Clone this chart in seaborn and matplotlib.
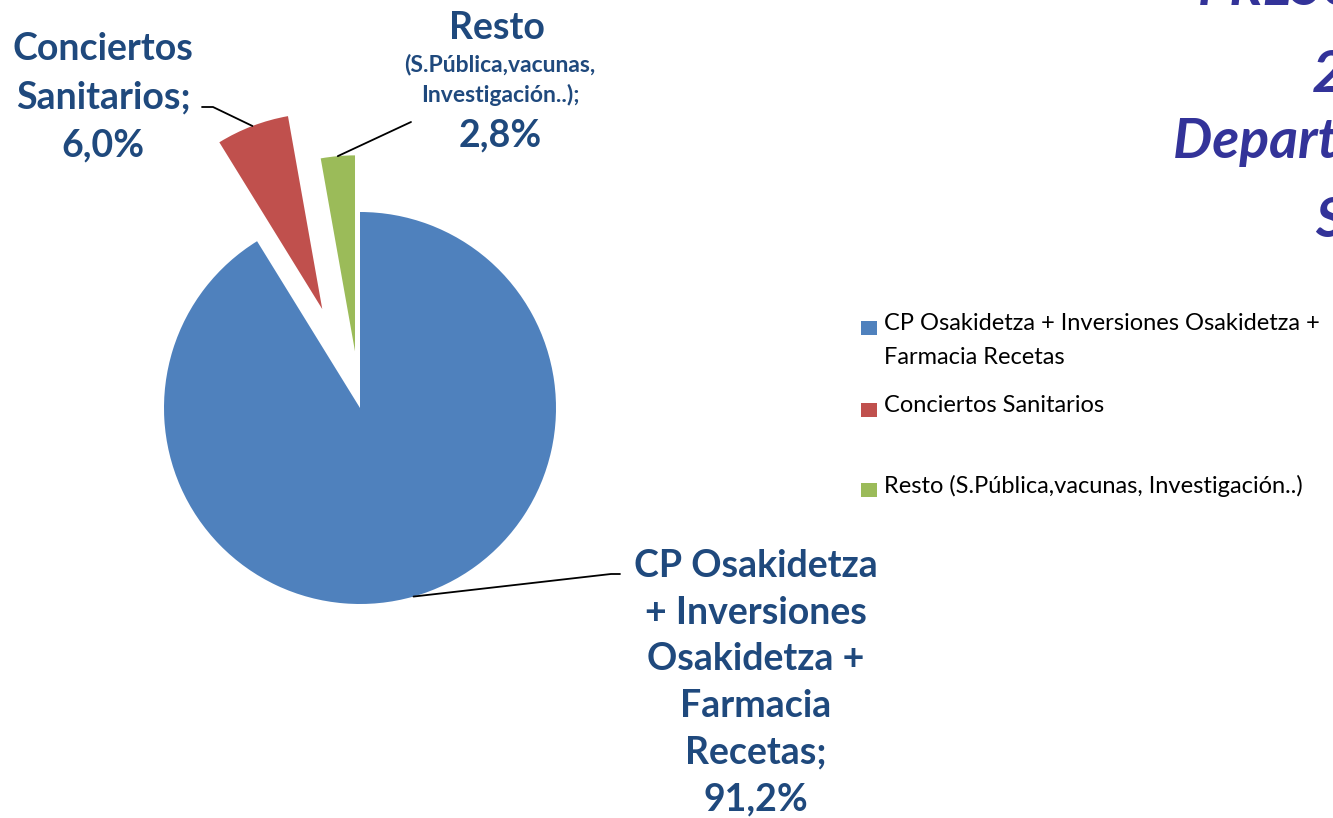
import numpy as np
import matplotlib
matplotlib.use("Agg")
import matplotlib.pyplot as plt
import seaborn as sns

# Data
categories = ["CP Osakidetza + Inversiones Osakidetza + Farmacia Recetas",
              "Conciertos Sanitarios",
              "Resto (S.Pública,vacunas, Investigación..)"]
legend_labels = ["CP Osakidetza + Inversiones Osakidetza +\nFarmacia Recetas",
                 "Conciertos Sanitarios",
                 "Resto (S.Pública,vacunas, Investigación..)"]
shares = [91.2, 6.0, 2.8]
explode = [0.0, 0.54, 0.29]   # fraction of radius
colors = ["#4F81BD", "#C0504D", "#9BBB59"]

W, H = 1333, 818
R = 196
sns.set_theme(style="white")
plt.rcParams['font.family'] = ['Lato', 'DejaVu Sans']

fig = plt.figure(figsize=(W / 100, H / 100), dpi=100)
ax = fig.add_axes([0, 0, 1, 1])

def Y(y):
    # pixel row -> data y
    return H - y

wedges, _ = ax.pie(shares, colors=colors, explode=[e * R for e in explode],
                   startangle=90, counterclock=False, radius=R,
                   center=(360, Y(408)), wedgeprops=dict(linewidth=0))
ax.set_xlim(0, W)
ax.set_ylim(0, H)
ax.set_aspect('equal')
ax.axis('off')

def anchor(w):
    mid = np.deg2rad((w.theta1 + w.theta2) / 2)
    cx, cy = w.center
    return cx + w.r * np.cos(mid), cy + w.r * np.sin(mid)

def pct(v):
    return f"{v:.1f}%".replace('.', ',')

lab_col = "#1F497D"
big = 27
small = 16.5

# leader lines
ax_, ay_ = anchor(wedges[0])
ax.plot([ax_, 611, 620], [ay_, Y(574), Y(574)], color="black", lw=1.3)
ax_, ay_ = anchor(wedges[1])
ax.plot([ax_, 213, 202], [ay_, Y(107), Y(107)], color="black", lw=1.3)
ax_, ay_ = anchor(wedges[2])
ax.plot([ax_, 411], [ay_, Y(122)], color="black", lw=1.3)

# blue label
ax.text(756, Y(549), "CP Osakidetza\n+ Inversiones\nOsakidetza +\nFarmacia\nRecetas;\n" + pct(shares[0]),
        ha="center", va="top", fontsize=big, fontweight="bold", color=lab_col,
        linespacing=1.45)
# red label
ax.text(103, Y(32), "Conciertos\nSanitarios;\n" + pct(shares[1]),
        ha="center", va="top", fontsize=big, fontweight="bold", color=lab_col,
        linespacing=1.5)
# green label
ax.text(497, Y(28), "Resto", ha="center", va="center", fontsize=big,
        fontweight="bold", color=lab_col)
ax.text(500, Y(80), "(S.Pública,vacunas,\nInvestigación..);", ha="center", va="center",
        fontsize=small, fontweight="bold", color=lab_col, linespacing=1.45)
ax.text(500, Y(135), pct(shares[2]), ha="center", va="center", fontsize=big,
        fontweight="bold", color=lab_col)

# legend (manual, uneven row spacing as in the original)
leg_y = [328, 410, 490]
for lab, col, yy in zip(legend_labels, colors, leg_y):
    ax.add_patch(plt.Rectangle((861, Y(yy + 7)), 16, 14, color=col, lw=0))
    ax.text(884, Y(yy - 15), lab, ha="left", va="top", fontsize=17,
            color="black", linespacing=1.75)

# cropped title at top right (cut by the figure edge as in the original)
title_col = "#333399"
for txt, yy, fs in [("PRESUPUESTO", 5, 40), ("2014", 92, 42),
                    ("Departamento de", 158, 40), ("Salud", 237, 40)]:
    ax.text(1380, Y(yy), txt, ha="center", va="baseline", fontsize=fs,
            fontweight="bold", fontstyle="italic", color=title_col)

fig.savefig("out.png", dpi=100)
plt.close(fig)
